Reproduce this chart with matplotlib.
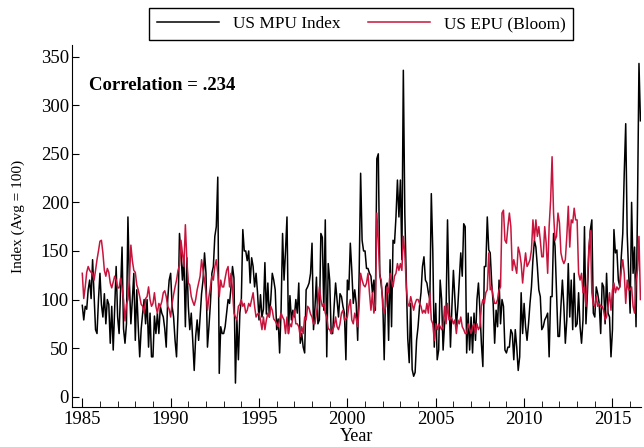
import numpy as np
import matplotlib
matplotlib.use('Agg')
import matplotlib.pyplot as plt
from matplotlib.ticker import MultipleLocator

plt.rcParams['font.family'] = ['Liberation Serif', 'DejaVu Serif']

# Monthly values, Jan 1985 - Aug 2016.
mpu = [
    94, 79, 93, 90, 110, 120, 101, 141, 105, 69, 65, 100,      # 1985
    127, 95, 82, 106, 75, 100, 95, 55, 93, 48, 90, 134,        # 1986
    82, 65, 110, 154, 70, 55, 75, 185, 117, 75, 100, 127,      # 1987
    58, 110, 72, 41, 70, 86, 100, 75, 100, 51, 86, 41,         # 1988
    41, 83, 65, 86, 65, 93, 86, 82, 70, 51, 100, 120,          # 1989
    127, 93, 82, 58, 41, 86, 168, 148, 120, 143, 72, 143,      # 1990
    93, 69, 86, 58, 27, 62, 79, 58, 82, 106, 120, 148,         # 1991
    127, 51, 72, 96, 127, 134, 165, 175, 226, 24, 72, 65,      # 1992
    65, 72, 86, 100, 96, 113, 134, 122, 14, 79, 38, 86,        # 1993
    100, 172, 150, 150, 140, 150, 117, 143, 134, 113, 127, 107,  # 1994
    79, 105, 82, 90, 138, 85, 117, 82, 100, 127, 120, 110,     # 1995
    69, 80, 45, 90, 168, 120, 150, 185, 65, 104, 79, 89,       # 1996
    82, 100, 86, 117, 55, 65, 51, 45, 110, 113, 117, 127,      # 1997
    158, 69, 92, 123, 75, 79, 168, 164, 89, 182, 41, 137,      # 1998
    120, 65, 65, 93, 117, 100, 82, 106, 103, 93, 86, 38,       # 1999
    120, 110, 158, 130, 96, 110, 96, 58, 127, 230, 161, 150,   # 2000
    150, 132, 132, 127, 124, 107, 120, 89, 245, 250, 127, 115,  # 2001
    100, 38, 113, 117, 58, 141, 72, 161, 158, 185, 223, 185,   # 2002
    223, 141, 336, 189, 120, 60, 35, 96, 28, 21, 25, 58,       # 2003
    72, 93, 107, 134, 144, 120, 117, 107, 100, 209, 150, 51,   # 2004
    96, 38, 48, 120, 100, 48, 75, 86, 182, 107, 51, 93,        # 2005
    130, 100, 72, 93, 120, 148, 124, 178, 175, 45, 86, 48,     # 2006
    82, 45, 86, 58, 100, 117, 89, 55, 31, 134, 134, 185,       # 2007
    151, 148, 117, 96, 55, 89, 72, 120, 75, 100, 93, 48,       # 2008
    45, 51, 51, 69, 65, 38, 69, 51, 27, 41, 107, 65,           # 2009
    96, 72, 58, 75, 96, 113, 141, 161, 154, 134, 110, 103,     # 2010
    69, 72, 79, 82, 86, 41, 103, 103, 168, 155, 107, 62,       # 2011
    62, 93, 120, 93, 55, 79, 137, 82, 120, 69, 127, 72,        # 2012
    75, 107, 72, 55, 79, 175, 75, 107, 150, 172, 182, 86,      # 2013
    82, 113, 106, 96, 65, 117, 113, 75, 127, 86, 82, 41,       # 2014
    69, 172, 148, 151, 120, 113, 144, 168, 230, 281, 168, 127,  # 2015
    86, 200, 127, 154, 72, 196, 343, 284,                      # 2016
]

epu = [
    127, 101, 113, 128, 134, 130, 128, 127, 120, 130, 141, 150,  # 1985
    160, 161, 148, 130, 124, 132, 128, 117, 112, 118, 124, 120,  # 1986
    112, 112, 122, 112, 100, 78, 95, 100, 120, 156, 140, 130,    # 1987
    128, 115, 110, 103, 95, 93, 86, 101, 103, 113, 100, 93,      # 1988
    96, 107, 93, 86, 96, 93, 98, 107, 109, 103, 93, 90,          # 1989
    82, 96, 105, 113, 120, 130, 135, 161, 148, 134, 177, 141,    # 1990
    117, 115, 103, 98, 94, 100, 110, 117, 124, 141, 130, 120,    # 1991
    107, 89, 103, 113, 124, 120, 134, 141, 127, 103, 120, 113,   # 1992
    113, 122, 130, 134, 113, 127, 110, 86, 82, 79, 93, 95,       # 1993
    100, 93, 96, 86, 89, 96, 93, 100, 107, 93, 82, 85,           # 1994
    86, 79, 69, 82, 69, 79, 86, 82, 93, 89, 80, 78,              # 1995
    75, 72, 79, 86, 82, 79, 65, 82, 65, 75, 72, 82,              # 1996
    89, 75, 75, 72, 62, 72, 65, 82, 79, 93, 91, 85,              # 1997
    82, 75, 75, 86, 96, 113, 100, 93, 96, 86, 82, 70,            # 1998
    69, 65, 69, 72, 82, 72, 69, 75, 86, 89, 79, 80,              # 1999
    82, 93, 100, 79, 75, 86, 80, 72, 93, 127, 120, 115,          # 2000
    113, 117, 127, 107, 89, 107, 86, 95, 189, 160, 124, 120,     # 2001
    93, 86, 93, 113, 107, 127, 120, 113, 124, 127, 137, 130,     # 2002
    137, 130, 165, 148, 113, 96, 93, 103, 96, 89, 96, 100,       # 2003
    100, 96, 93, 86, 89, 86, 96, 86, 107, 79, 75, 58,            # 2004
    75, 69, 75, 72, 69, 72, 93, 75, 96, 79, 82, 80,              # 2005
    75, 79, 65, 79, 75, 82, 72, 69, 65, 65, 75, 70,              # 2006
    65, 72, 75, 65, 75, 69, 72, 93, 100, 96, 107, 110,           # 2007
    148, 110, 113, 103, 96, 96, 100, 110, 113, 189, 192, 161,    # 2008
    158, 175, 189, 175, 130, 141, 134, 127, 154, 148, 137, 117,  # 2009
    134, 148, 134, 137, 141, 151, 182, 161, 182, 165, 175, 161,  # 2010
    144, 144, 175, 158, 127, 175, 202, 247, 189, 161, 165, 189,  # 2011
    179, 148, 141, 137, 141, 165, 196, 154, 182, 179, 194, 182,  # 2012
    182, 127, 120, 127, 107, 113, 93, 120, 154, 171, 107, 95,    # 2013
    93, 103, 93, 96, 93, 93, 89, 79, 82, 93, 107, 89,            # 2014
    110, 117, 107, 113, 110, 113, 130, 141, 127, 96, 120, 110,   # 2015
    110, 113, 93, 86, 120, 130, 165, 100,                        # 2016
]

start_year = 1985
corr_label = 'Correlation = .234'

# Monthly dates as decimal years.
t = start_year + np.arange(len(mpu)) / 12.0

fig = plt.figure(figsize=(6.44, 4.47), dpi=100)
ax = fig.add_axes([0.1113, 0.0902, 0.8840, 0.8091])

ax.plot(t, mpu, color='black', lw=1.1, label='US MPU Index')
ax.plot(t, epu, color='#c8143c', lw=1.1, label='US EPU (Bloom)')

ax.set_xlim(1984.40, t[-1] + 0.03)
ax.set_ylim(-10.3, 362)

# Only left and bottom axis lines.
ax.spines['top'].set_visible(False)
ax.spines['right'].set_visible(False)

ax.xaxis.set_major_locator(MultipleLocator(5))
ax.xaxis.set_minor_locator(MultipleLocator(1))
ax.yaxis.set_major_locator(MultipleLocator(50))
ax.tick_params(axis='both', which='major', direction='in', labelsize=13.5, colors='black')
ax.tick_params(axis='x', which='major', length=6.5, pad=3)
ax.tick_params(axis='y', which='major', length=5, pad=2)
ax.tick_params(axis='x', which='minor', direction='in', length=4.3)
ax.tick_params(axis='y', which='minor', left=False)

ax.set_xlabel('Year', fontsize=13, labelpad=0)
ax.set_ylabel('Index (Avg = 100)', fontsize=11)
ax.yaxis.set_label_coords(-0.082, 0.527)

ax.text(1985.4, 320, corr_label, fontsize=13.5, fontweight='bold', va='center')

fig.legend(loc='center', bbox_to_anchor=(0.561, 0.946), ncol=2, fontsize=12.4,
           frameon=True, fancybox=False, edgecolor='black', framealpha=1,
           handlelength=3.6, columnspacing=1.6, borderpad=0.45)

fig.savefig('out.png', dpi=100)
